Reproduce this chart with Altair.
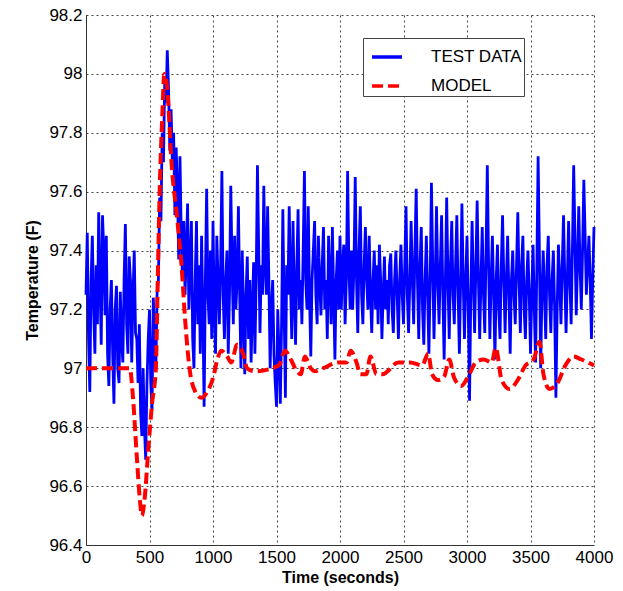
import altair as alt
import pandas as pd

# ---------------- data ----------------
test_time = list(range(0, 4001, 10))
test_temp = [
    97.25, 97.46, 97.10, 96.92, 97.30, 97.45, 97.20, 97.05, 97.35, 97.15,
    97.53, 97.30, 97.08, 97.52, 97.40, 97.18, 97.45, 97.05, 96.94, 97.20,
    97.30, 97.05, 96.88, 97.20, 97.28, 97.00, 96.95, 97.26, 97.10, 97.02,
    97.30, 97.49, 97.15, 97.05, 97.38, 97.30, 97.02, 97.25, 97.40, 97.12,
    97.10, 96.95, 97.15, 96.85, 96.77, 97.00, 96.80, 96.69, 96.95, 97.10,
    97.20, 96.95, 96.86, 97.24, 97.10, 97.00, 97.26, 97.30, 97.58, 97.50,
    97.80, 97.70, 97.98, 97.90, 98.08, 97.95, 97.74, 97.88, 97.70, 97.80,
    97.52, 97.75, 97.60, 97.37, 97.72, 97.45, 97.30, 97.50, 97.25, 97.40,
    97.56, 97.20, 97.35, 97.50, 97.10, 97.00, 97.30, 97.50, 97.15, 97.35,
    97.05, 97.45, 97.20, 96.87, 97.30, 97.61, 97.25, 97.15, 97.40, 97.10,
    97.50, 97.20, 97.05, 97.45, 97.30, 97.15, 97.35, 97.67, 97.25, 97.10,
    97.30, 97.40, 97.05, 97.25, 97.62, 97.35, 97.15, 97.45, 97.20, 97.30,
    97.55, 97.25, 97.00, 97.40, 97.20, 96.98, 97.25, 97.38, 97.10, 97.30,
    97.02, 97.20, 97.36, 97.05, 97.30, 97.69, 97.40, 97.12, 97.35, 97.25,
    97.62, 97.35, 97.25, 97.55, 97.30, 97.00, 97.20, 97.30, 97.05, 96.95,
    96.87, 97.20, 97.05, 96.88, 97.15, 97.54, 97.20, 96.90, 97.35, 97.25,
    97.55, 97.30, 97.10, 97.50, 97.25, 97.08, 97.35, 97.54, 97.20, 97.30,
    97.15, 97.40, 97.67, 97.30, 97.20, 97.55, 97.25, 97.04, 97.30, 97.40,
    97.50, 97.25, 97.15, 97.45, 97.30, 97.18, 97.35, 97.48, 97.20, 97.30,
    97.10, 97.45, 97.30, 97.15, 97.48, 97.25, 97.03, 97.30, 97.40, 97.20,
    97.45, 97.20, 97.35, 97.42, 97.15, 97.30, 97.67, 97.35, 97.20, 97.40,
    97.20, 97.35, 97.65, 97.30, 97.12, 97.40, 97.55, 97.25, 97.15, 97.35,
    97.48, 97.30, 97.20, 97.45, 97.25, 97.12, 97.30, 97.40, 97.20, 97.35,
    97.15, 97.42, 97.30, 97.10, 97.25, 97.38, 97.20, 97.30, 97.15, 97.35,
    97.39, 97.20, 97.12, 97.30, 97.40, 97.25, 97.10, 97.30, 97.42, 97.25,
    97.15, 97.35, 97.55, 97.25, 97.12, 97.30, 97.50, 97.30, 97.15, 97.40,
    97.61, 97.30, 97.10, 97.35, 97.48, 97.20, 97.08, 97.30, 97.45, 97.25,
    97.05, 97.30, 97.63, 97.35, 97.10, 97.30, 97.55, 97.30, 97.15, 97.35,
    97.52, 97.25, 97.03, 97.30, 97.58, 97.30, 97.10, 97.35, 97.50, 97.25,
    97.15, 97.35, 97.52, 97.25, 97.05, 97.30, 97.56, 97.30, 97.10, 97.30,
    97.45, 97.20, 96.89, 97.25, 97.50, 97.30, 97.12, 97.35, 97.57, 97.30,
    97.10, 97.30, 97.48, 97.25, 97.12, 97.40, 97.69, 97.35, 97.10, 97.30,
    97.45, 97.25, 97.03, 97.30, 97.42, 97.20, 97.10, 97.35, 97.52, 97.30,
    97.12, 97.30, 97.45, 97.25, 97.05, 97.30, 97.40, 97.25, 97.15, 97.35,
    97.53, 97.30, 97.12, 97.35, 97.45, 97.20, 97.10, 97.30, 97.40, 97.25,
    97.05, 97.25, 97.42, 97.20, 97.02, 97.35, 97.72, 97.40, 97.00, 97.25,
    97.40, 97.25, 97.10, 97.35, 97.45, 97.25, 97.12, 97.30, 97.40, 97.20,
    96.90, 97.20, 97.42, 97.30, 97.15, 97.35, 97.52, 97.30, 97.12, 97.30,
    97.50, 97.30, 97.15, 97.40, 97.69, 97.45, 97.18, 97.35, 97.55, 97.35,
    97.20, 97.40, 97.64, 97.45, 97.25, 97.35, 97.45, 97.30, 97.10, 97.30,
    97.48,
]

model_time = [0, 345, 370, 400, 425, 440, 460, 490, 520, 550, 565, 580, 600, 617,
              640, 673, 720, 752, 783, 815, 861, 908, 955, 1002, 1034, 1065, 1112,
              1143, 1190, 1237, 1269, 1331, 1519, 1566, 1613, 1660, 1691, 1723,
              1770, 1801, 1864, 1989, 2052, 2083, 2130, 2161, 2208, 2240, 2287,
              2334, 2459, 2553, 2647, 2694, 2725, 2772, 2819, 2860, 2897, 2954,
              3007, 3069, 3132, 3195, 3226, 3273, 3336, 3399, 3461, 3524, 3571,
              3602, 3649, 3712, 3775, 3837, 3900, 4000]
model_temp = [97.00, 97.00, 96.90, 96.70, 96.55, 96.50, 96.55, 96.72, 96.88, 97.00,
              97.30, 97.60, 97.85, 98.00, 97.95, 97.70, 97.50, 97.35, 97.15, 97.00,
              96.92, 96.90, 96.92, 96.97, 97.03, 97.06, 97.04, 97.02, 97.08, 97.05,
              97.00, 96.99, 97.01, 97.06, 97.03, 96.99, 96.98, 97.04, 97.00, 96.99,
              97.00, 97.02, 97.02, 97.06, 97.02, 96.98, 96.98, 97.04, 96.98, 96.98,
              97.02, 97.02, 97.01, 97.05, 96.98, 96.96, 96.97, 97.03, 96.97, 96.94,
              96.97, 97.02, 97.03, 97.02, 97.07, 96.96, 96.93, 96.96, 97.01, 97.03,
              97.09, 96.98, 96.93, 96.95, 97.01, 97.04, 97.03, 97.01]

series_names = ["TEST DATA", "MODEL"]
series_colors = ["#0000ff", "#ff0000"]
x_ticks = [0, 500, 1000, 1500, 2000, 2500, 3000, 3500, 4000]
y_ticks = [96.4, 96.6, 96.8, 97.0, 97.2, 97.4, 97.6, 97.8, 98.0, 98.2]

df_test = pd.DataFrame({"time": test_time, "temp": test_temp, "series": series_names[0]})
df_model = pd.DataFrame({"time": model_time, "temp": model_temp, "series": series_names[1]})

FONT = "Liberation Sans"
NBSP = "\u00a0" * 8

color_scale = alt.Scale(domain=series_names, range=series_colors)
dash_scale = alt.Scale(domain=series_names, range=[[1, 0], [11, 5]])

legend = alt.Legend(
    title=None, orient="none", legendX=277, legendY=23,
    fillColor="white", strokeColor="#444", padding=2,
    symbolType="stroke", symbolSize=900, symbolStrokeWidth=3.5, symbolOffset=5,
    labelOffset=27, labelFontSize=17, labelFont=FONT, labelColor="black",
    rowPadding=4, labelExpr="datum.label + '" + NBSP + "'",
)

x_enc = alt.X("time:Q", scale=alt.Scale(domain=[0, 4000], nice=False),
              axis=alt.Axis(values=x_ticks, title="Time (seconds)", format="d",
                            labelFlush=False, labelOverlap=False, titlePadding=4))
y_enc = alt.Y("temp:Q", scale=alt.Scale(domain=[96.4, 98.2], nice=False, zero=False),
              axis=alt.Axis(values=y_ticks, title="Temperature (F)", format=".1~f",
                            labelOverlap=False, titlePadding=8))

base_enc = dict(
    x=x_enc, y=y_enc,
    color=alt.Color("series:N", scale=color_scale, legend=legend),
    strokeDash=alt.StrokeDash("series:N", scale=dash_scale, legend=legend),
)

test_line = alt.Chart(df_test).mark_line(strokeWidth=2.8).encode(**base_enc)
model_line = alt.Chart(df_model).mark_line(strokeWidth=4, interpolate="monotone").encode(**base_enc)

chart = alt.layer(test_line, model_line).properties(
    width=508, height=530,
    padding={"left": 86, "top": 15, "right": 29, "bottom": 46},
    autosize=alt.AutoSizeParams(type="none"),
    background="white",
).configure_view(stroke=None).configure_axis(
    labelFont=FONT, labelFontSize=17, labelColor="black",
    titleFont=FONT, titleFontSize=16, titleFontWeight="bold", titleColor="black",
    ticks=False, labelPadding=4,
    domainColor="#333", domainWidth=1,
    grid=True, gridColor="#444", gridDash=[2, 3], gridWidth=1, gridOpacity=1,
)

chart.save("out.html", embed_options={"renderer": "svg", "actions": False})
